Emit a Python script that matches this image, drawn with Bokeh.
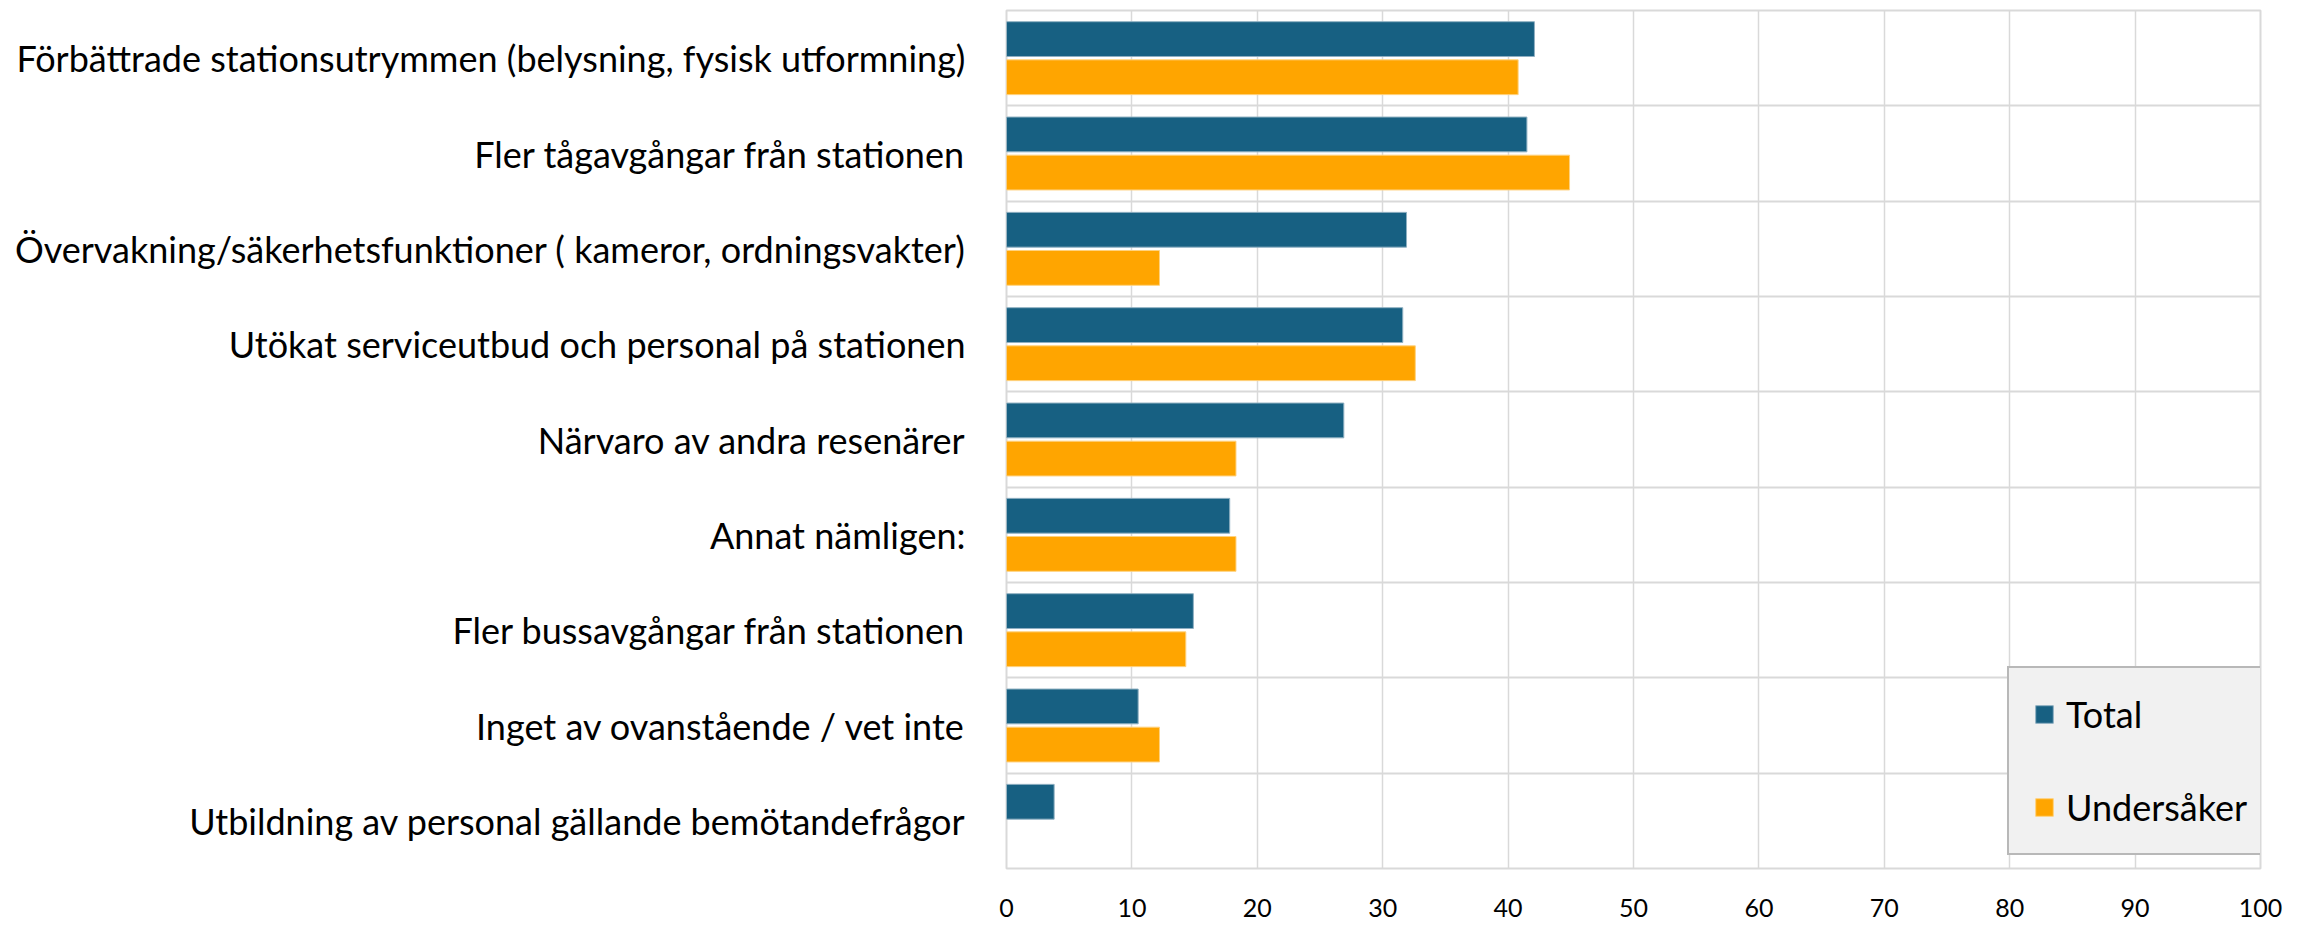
from bokeh.plotting import figure
from bokeh.models import ColumnDataSource, FixedTicker, Range1d, Legend, LegendItem
from bokeh.transform import dodge
from bokeh.embed import file_html
from bokeh.resources import INLINE

categories = [
    "Förbättrade stationsutrymmen (belysning, fysisk utformning)",
    "Fler tågavgångar från stationen",
    "Övervakning/säkerhetsfunktioner ( kameror, ordningsvakter)",
    "Utökat serviceutbud och personal på stationen",
    "Närvaro av andra resenärer",
    "Annat nämligen:",
    "Fler bussavgångar från stationen",
    "Inget av ovanstående / vet inte",
    "Utbildning av personal gällande bemötandefrågor",
]
total = [42.1, 41.5, 31.9, 31.6, 26.9, 17.8, 14.9, 10.5, 3.8]
undersaker = [40.8, 44.9, 12.2, 32.6, 18.3, 18.3, 14.3, 12.2, float("nan")]
series_names = ["Total", "Undersåker"]
x_ticks = [0, 10, 20, 30, 40, 50, 60, 70, 80, 90, 100]

FONT = "Lato"
n = len(categories)
pos = list(range(n))

source = ColumnDataSource(dict(y=pos, total=total, und=undersaker))

p = figure(
    width=2305, height=925,
    x_range=Range1d(0, 100), y_range=Range1d(n - 0.5, -0.5),
    output_backend="svg", toolbar_location=None,
    min_border_left=1006, min_border_right=45, min_border_top=10, min_border_bottom=57,
)
p.background_fill_color = "white"
p.border_fill_color = "white"
p.outline_line_color = "#d9d9d9"
p.outline_line_width = 2

r1 = p.hbar(y=dodge("y", -0.2, range=p.y_range), left=0, right="total", height=0.365,
            source=source, fill_color="#176082", line_color="#8fb0c2", line_width=1)
r2 = p.hbar(y=dodge("y", 0.2, range=p.y_range), left=0, right="und", height=0.365,
            source=source, fill_color="#FFA500", line_color="#ffd27f", line_width=1)

# axes
p.xaxis.ticker = FixedTicker(ticks=x_ticks)
p.xaxis.axis_line_color = None
p.xaxis.major_tick_line_color = None
p.xaxis.minor_tick_line_color = None
p.xaxis.major_label_text_font = FONT
p.xaxis.major_label_text_font_size = "25px"
p.xaxis.major_label_text_color = "#000000"
p.xaxis.major_label_standoff = 24

p.yaxis.ticker = FixedTicker(ticks=pos)
p.yaxis.major_label_overrides = {i: c for i, c in zip(pos, categories)}
p.yaxis.axis_line_color = None
p.yaxis.major_tick_line_color = None
p.yaxis.minor_tick_line_color = None
p.yaxis.major_label_text_font = FONT
p.yaxis.major_label_text_font_size = "36px"
p.yaxis.major_label_text_color = "#000000"
p.yaxis.major_label_standoff = 35

# grids
p.xgrid.ticker = FixedTicker(ticks=x_ticks)
p.xgrid.grid_line_color = "#d9d9d9"
p.xgrid.grid_line_width = 1.5
p.ygrid.ticker = FixedTicker(ticks=[k + 0.5 for k in range(n - 1)])
p.ygrid.grid_line_color = "#d9d9d9"
p.ygrid.grid_line_width = 2

legend = Legend(
    items=[LegendItem(label=series_names[0], renderers=[r1]),
           LegendItem(label=series_names[1], renderers=[r2])],
    location=(1001, 13),
    orientation="vertical",
    background_fill_color="#f1f1f1", background_fill_alpha=1,
    border_line_color="#7f7f7f", border_line_width=2,
    label_text_font=FONT, label_text_font_size="36px", label_text_color="#000000",
    glyph_width=22, glyph_height=22, label_height=44, label_standoff=11,
    spacing=49, padding=24, margin=0,
)
p.add_layout(legend, "center")

open("out.html", "w").write(file_html(p, INLINE))
